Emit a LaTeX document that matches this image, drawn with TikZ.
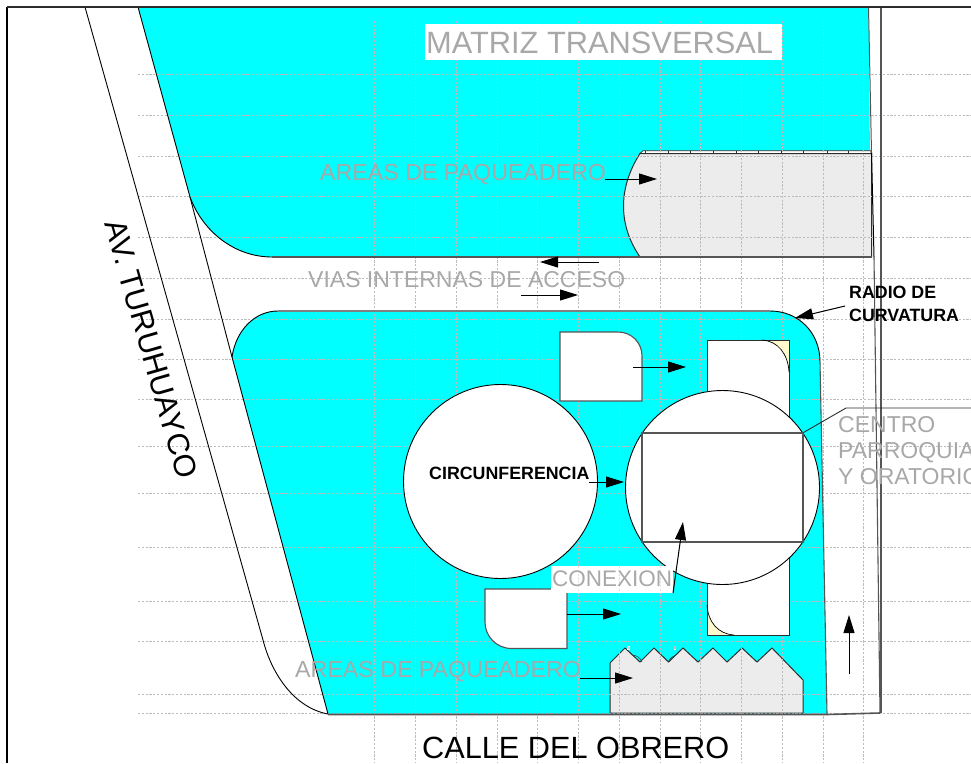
\documentclass[tikz,border=0pt]{standalone}
\usepackage{fontspec}
\setmainfont{Liberation Sans}
\usetikzlibrary{arrows.meta,calc}
\definecolor{matriz}{RGB}{0,255,255}
\definecolor{parkgrey}{RGB}{236,236,236}
\definecolor{griddash}{RGB}{188,188,188}
\definecolor{labelgrey}{RGB}{168,168,168}
\definecolor{cornerfill}{RGB}{255,250,205}
\definecolor{edgedark}{RGB}{45,45,45}
\definecolor{edgemid}{RGB}{85,85,85}
\newcommand{\fs}[1]{\fontsize{#1}{#1}\selectfont}
\tikzset{
  x=1pt,y=-1pt,
  gridline/.style={draw=griddash,line width=1pt,dash pattern=on 2.2pt off 1.6pt},
  outline/.style={draw=black,line width=0.9pt},
  shapeline/.style={draw=edgedark,line width=1pt},
  blockline/.style={draw=edgemid,line width=1.1pt},
  flow/.style={draw=black,fill=black,line width=1pt,-{Triangle[length=18pt,width=11pt]}},
  graytext/.style={text=labelgrey,inner sep=0pt,anchor=base west},
  blacktext/.style={text=black,inner sep=0pt,anchor=base west},
  boldtext/.style={text=black,inner sep=0pt,anchor=base west,font=\bfseries},
  ticklabel/.style={fill=white,text=gray,inner sep=0.2pt,font=\fontsize{4.5}{4.5}\selectfont},
}
\begin{document}
\begin{tikzpicture}
\useasboundingbox (0,0) rectangle (971,763);
\clip (0,0) rectangle (971,763);
\fill[white] (0,0) rectangle (971,763);

% matrix areas
\fill[matriz] (138,7) -- (190,197) .. controls (203,232) and (235,257) .. (272,257) -- (871,257) -- (868.5,7) -- cycle;
\fill[matriz] (232,357) .. controls (236,330) and (255,311) .. (278,311) -- (770,311) .. controls (798,311) and (820,332) .. (820,362) -- (827,714) -- (328,714) -- cycle;

% parking areas
\path[fill=parkgrey,shapeline] (640,153.5) .. controls (618,188) and (618,225) .. (640,257) -- (871.5,257) -- (871.5,153.5) -- cycle;
\path[fill=white,shapeline,line width=0.8pt] (640,153.5) -- (643,150.7) -- (871,150.7) -- (871,153.5) -- cycle;
\foreach \tx in {645,668,690,713,736,758,781,803,827,848}
  \draw[edgedark,line width=0.8pt] (\tx,150.7) -- (\tx,153.5);
\draw[edgedark,line width=0.8pt] (742,153) -- (752,153);
\draw[edgedark,line width=0.8pt] (832,153) -- (843,153);
\path[fill=parkgrey,shapeline] (610,713) -- (610,663) -- (625,648) -- (640,662) -- (654,648) -- (668.5,662) -- (683,648) -- (698,662) -- (713,648) -- (727,662) -- (742,648) -- (757,662) -- (772,648) -- (803,680) -- (803,713) -- cycle;
\draw[edgedark,line width=0.5pt] (632,655) .. controls (636,655) and (641,658) .. (642,662);
\draw[edgedark,line width=0.5pt] (668,662) .. controls (670,658) and (673,656) .. (676,655);

% grid
\foreach \gy in {74,115,156,196,237,278,319,359,399,446,493,547,601,641,694,713}
  \draw[gridline] (138,\gy) -- (971,\gy);
\foreach \gx in {374,415,456,497,537,578,619,660,700,741,782,823,863}
  \draw[gridline] (\gx,21) -- (\gx,763);

% tall block with corners
\path[fill=cornerfill,draw=none] (707,340) rectangle (789,635);
\path[fill=white,draw=none] (707,340) -- (762,340) .. controls (778,341) and (788,354) .. (789,372) -- (789,635) -- (734,635) .. controls (718,634) and (708,622) .. (707,605) -- cycle;
\draw[shapeline] (707,340) rectangle (789,635);
\draw[black,line width=0.7pt] (762,340) .. controls (778,341) and (788,354) .. (789,372);
\draw[black,line width=0.7pt] (734,635) .. controls (718,634) and (708,622) .. (707,605);

% circles and white blocks
\node[circle,draw=black,fill=white,line width=0.9pt,minimum size=194pt,inner sep=0pt] (leftcircle) at (500.5,481.5) {};
\node[circle,draw=black,fill=white,line width=0.9pt,minimum size=194pt,inner sep=0pt] (rightcircle) at (722.5,487.5) {};
\node[blockline,minimum width=161pt,minimum height=109pt,inner sep=0pt] (centerrect) at (722.5,487.5) {};
\path[fill=white,blockline] (560,332) -- (618,332) .. controls (632,332) and (642,343) .. (642,356) -- (642,401) -- (560,401) -- cycle;
\path[fill=white,blockline] (485,589) -- (567,589) -- (567,648.5) -- (512,648.5) .. controls (496,648.5) and (485,636) .. (485,622) -- cycle;

% outlines
\draw[outline] (85,7) -- (263,640) .. controls (272,675) and (295,708) .. (328,714);
\draw[outline] (138,7) -- (190,197) -- (232,357);
\draw[outline] (190,197) .. controls (203,232) and (235,257) .. (272,257);
\draw[draw=edgemid,line width=1.1pt] (272,257) -- (871.5,257);
\draw[outline] (232,357) .. controls (236,330) and (255,311) .. (278,311);
\draw[draw=gray,line width=1.1pt] (278,311) -- (770,311);
\draw[outline] (770,311) .. controls (798,311) and (820,332) .. (820,362);
\draw[outline] (232,357) -- (328,714);
\draw[draw=edgemid,line width=1.1pt] (820,362) -- (827,714);
\draw[draw=edgemid,line width=1.6pt] (328,714.5) -- (827,714.5) -- (880,713);
\draw[draw=edgemid,line width=1pt] (868.5,7) -- (871.5,153);
\draw[draw=edgemid,line width=1.1pt] (874,257) -- (880,713);
\draw[draw=edgemid,line width=1.1pt] (881,7) -- (881,713);
\draw[draw=black,line width=1pt] (871.5,153) -- (874,257);
\draw[draw=black,line width=1.6pt] (7,763) -- (7,7);
\draw[draw=edgedark,line width=1.3pt] (7,7) -- (971,7);

% labels
\node[fill=white,minimum width=357pt,minimum height=36pt,inner sep=0pt] (matrizbox) at (603.5,42) {};
\node[graytext] (matriz) at (426,53) {\fs{30.8}MATRIZ TRANSVERSAL};
\node[graytext] (areastop) at (320,180) {\fs{23.2}AREAS DE PAQUEADERO};
\node[graytext] (areasbot) at (295,677) {\fs{23.2}AREAS DE PAQUEADERO};
\node[graytext] (vias) at (308,287) {\fs{23}VIAS INTERNAS DE ACCESO};
\node[graytext] (centro1) at (838,432) {\fs{23}CENTRO};
\node[graytext] (centro2) at (838,458) {\fs{23}PARROQUIAL};
\node[graytext] (centro3) at (838,484) {\fs{23}Y ORATORIO};
\node[fill=white,minimum width=122pt,minimum height=27pt,inner sep=0pt] (conexbox) at (612,579.5) {};
\draw[griddash!45,line width=0.8pt,dash pattern=on 2.2pt off 1.6pt] (578,566) -- (578,593);
\draw[griddash!45,line width=0.8pt,dash pattern=on 2.2pt off 1.6pt] (619,566) -- (619,593);
\draw[griddash!45,line width=0.8pt,dash pattern=on 2.2pt off 1.6pt] (660,566) -- (660,593);
\node[graytext] (conexion) at (552,586) {\fs{22.5}CONEXION};
\node[boldtext] (circ) at (429,479) {\fs{17.8}CIRCUNFERENCIA};
\node[boldtext] (radio1) at (849,298) {\fs{17.8}RADIO DE};
\node[boldtext] (radio2) at (849,321) {\fs{17.8}CURVATURA};
\node[blacktext] (calle) at (422,758) {\fs{30.7}CALLE DEL OBRERO};
\node[text=black,inner sep=0pt,rotate=-74,anchor=base] (turu) at (141,352) {\fs{30.7}AV. TURUHUAYCO};
\node[ticklabel] (tick5) at (628.5,648) {5};
\node[ticklabel] (tick8) at (675,648) {8};

% free ends
\coordinate (a1s) at (605,179); \coordinate (a1e) at (657,179);
\coordinate (a2s) at (599,262); \coordinate (a2e) at (540,262);
\coordinate (a3s) at (521,295); \coordinate (a3e) at (578,295);
\coordinate (a4s) at (845,306); \coordinate (a4e) at (795,318);
\coordinate (a5s) at (633,367); \coordinate (a5e) at (686,367);
\coordinate (a6s) at (589,482); \coordinate (a6e) at (624,482);
\coordinate (a7s) at (673,593); \coordinate (a7e) at (683,522);
\coordinate (a8s) at (567,614); \coordinate (a8e) at (621,614);
\coordinate (a9s) at (580,678); \coordinate (a9e) at (633,678);
\coordinate (a10s) at (849,674); \coordinate (a10e) at (849,615);
\foreach \n in {1,...,10} \draw[flow] (a\n s) -- (a\n e);
\draw[draw=edgedark,line width=0.9pt] (centerrect.north east) -- (846,408) -- (971,408);
\end{tikzpicture}
\end{document}
